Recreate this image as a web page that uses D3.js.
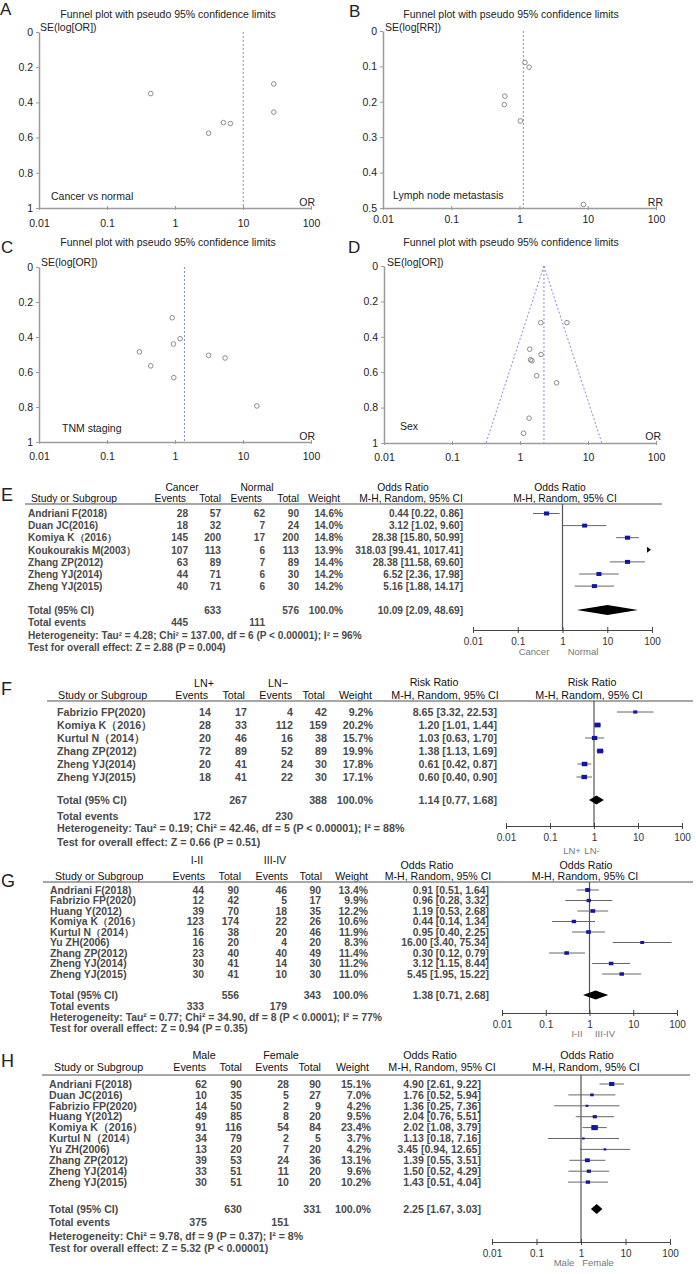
<!DOCTYPE html>
<html><head><meta charset="utf-8">
<script src="https://cdn.jsdelivr.net/npm/d3@7"></script>
<style>body{margin:0;background:#fff}svg{display:block}</style>
</head><body><svg id="c" width="696" height="1274"></svg>
<script>
// ---------------- DATA ----------------
const axisTicks = [0.01, 0.1, 1, 10, 100];
const axisTickLabels = ["0.01", "0.1", "1", "10", "100"];

// Funnel A (Cancer vs normal)
const aOR = [0.44, 3.12, 5.16, 6.52, 28.38, 28.38];
const aSE = [0.35, 0.575, 0.515, 0.52, 0.295, 0.455];
const aPooled = 10.09;
const aYTicks = [0, 0.2, 0.4, 0.6, 0.8, 1];
// Funnel B (Lymph node metastasis)
const bRR = [1.20, 1.38, 0.61, 0.60, 1.03, 8.65];
const bSE = [0.089, 0.102, 0.184, 0.208, 0.254, 0.49];
const bPooled = 1.14;
const bYTicks = [0, 0.1, 0.2, 0.3, 0.4, 0.5];
// Funnel C (TNM staging)
const cOR = [0.91, 1.19, 0.95, 0.30, 0.44, 0.96, 3.12, 5.45, 16.00];
const cSE = [0.29, 0.41, 0.44, 0.485, 0.565, 0.632, 0.505, 0.52, 0.794];
const cPooled = 1.38;
const cYTicks = [0, 0.2, 0.4, 0.6, 0.8, 1];
// Funnel D (Sex)
const dOR = [4.90, 2.02, 2.04, 1.39, 1.43, 1.50, 1.76, 3.45, 1.36, 1.13];
const dSE = [0.32, 0.32, 0.50, 0.47, 0.53, 0.535, 0.62, 0.66, 0.86, 0.945];
const dPooled = 2.25;
const dYTicks = [0, 0.2, 0.4, 0.6, 0.8, 1];

// Forest E
const eGroups = ["Cancer", "Normal"];
const eStudies = ["Andriani F(2018)", "Duan JC(2016)", "Komiya K（2016）", "Koukourakis M(2003）", "Zhang ZP(2012)", "Zheng YJ(2014)", "Zheng YJ(2015)"];
const eEv1 = [28, 18, 145, 107, 63, 44, 40];
const eTot1 = [57, 32, 200, 113, 89, 71, 71];
const eEv2 = [62, 7, 17, 6, 7, 6, 6];
const eTot2 = [90, 24, 200, 113, 89, 30, 30];
const eWeight = [14.6, 14.0, 14.8, 13.9, 14.4, 14.2, 14.2];
const eEst = [0.44, 3.12, 28.38, 318.03, 28.38, 6.52, 5.16];
const eLo = [0.22, 1.02, 15.80, 99.41, 11.58, 2.36, 1.88];
const eHi = [0.86, 9.60, 50.99, 1017.41, 69.60, 17.98, 14.17];
const eTotals = [633, 576];
const eTotalEvents = [445, 111];
const ePooled = [10.09, 2.09, 48.69];
const eHet = "Heterogeneity: Tau² = 4.28; Chi² = 137.00, df = 6 (P < 0.00001); I² = 96%";
const eTest = "Test for overall effect: Z = 2.88 (P = 0.004)";

// Forest F
const fGroups = ["LN+", "LN−"];
const fStudies = ["Fabrizio FP(2020)", "Komiya K（2016）", "Kurtul N（2014）", "Zhang ZP(2012)", "Zheng YJ(2014)", "Zheng YJ(2015)"];
const fEv1 = [14, 28, 20, 72, 20, 18];
const fTot1 = [17, 33, 46, 89, 41, 41];
const fEv2 = [4, 112, 16, 52, 24, 22];
const fTot2 = [42, 159, 38, 89, 30, 30];
const fWeight = [9.2, 20.2, 15.7, 19.9, 17.8, 17.1];
const fEst = [8.65, 1.20, 1.03, 1.38, 0.61, 0.60];
const fLo = [3.32, 1.01, 0.63, 1.13, 0.42, 0.40];
const fHi = [22.53, 1.44, 1.70, 1.69, 0.87, 0.90];
const fTotals = [267, 388];
const fTotalEvents = [172, 230];
const fPooled = [1.14, 0.77, 1.68];
const fHet = "Heterogeneity: Tau² = 0.19; Chi² = 42.46, df = 5 (P < 0.00001); I² = 88%";
const fTest = "Test for overall effect: Z = 0.66 (P = 0.51)";

// Forest G
const gGroups = ["I-II", "III-IV"];
const gStudies = ["Andriani F(2018)", "Fabrizio FP(2020)", "Huang Y(2012)", "Komiya K（2016）", "Kurtul N（2014）", "Yu ZH(2006)", "Zhang ZP(2012)", "Zheng YJ(2014)", "Zheng YJ(2015)"];
const gEv1 = [44, 12, 39, 123, 16, 16, 23, 30, 30];
const gTot1 = [90, 42, 70, 174, 38, 20, 40, 41, 41];
const gEv2 = [46, 5, 18, 22, 20, 4, 40, 14, 10];
const gTot2 = [90, 17, 35, 26, 46, 20, 49, 30, 30];
const gWeight = [13.4, 9.9, 12.2, 10.6, 11.9, 8.3, 11.4, 11.2, 11.0];
const gEst = [0.91, 0.96, 1.19, 0.44, 0.95, 16.00, 0.30, 3.12, 5.45];
const gLo = [0.51, 0.28, 0.53, 0.14, 0.40, 3.40, 0.12, 1.15, 1.95];
const gHi = [1.64, 3.32, 2.68, 1.34, 2.25, 75.34, 0.79, 8.44, 15.22];
const gTotals = [556, 343];
const gTotalEvents = [333, 179];
const gPooled = [1.38, 0.71, 2.68];
const gHet = "Heterogeneity: Tau² = 0.77; Chi² = 34.90, df = 8 (P < 0.0001); I² = 77%";
const gTest = "Test for overall effect: Z = 0.94 (P = 0.35)";

// Forest H
const hGroups = ["Male", "Female"];
const hStudies = ["Andriani F(2018)", "Duan JC(2016)", "Fabrizio FP(2020)", "Huang Y(2012)", "Komiya K（2016）", "Kurtul N（2014）", "Yu ZH(2006)", "Zhang ZP(2012)", "Zheng YJ(2014)", "Zheng YJ(2015)"];
const hEv1 = [62, 10, 14, 49, 91, 34, 13, 39, 33, 30];
const hTot1 = [90, 35, 50, 85, 116, 79, 20, 53, 51, 51];
const hEv2 = [28, 5, 2, 8, 54, 2, 7, 24, 11, 10];
const hTot2 = [90, 27, 9, 20, 84, 5, 20, 36, 20, 20];
const hWeight = [15.1, 7.0, 4.2, 9.5, 23.4, 3.7, 4.2, 13.1, 9.6, 10.2];
const hEst = [4.90, 1.76, 1.36, 2.04, 2.02, 1.13, 3.45, 1.39, 1.50, 1.43];
const hLo = [2.61, 0.52, 0.25, 0.76, 1.08, 0.18, 0.94, 0.55, 0.52, 0.51];
const hHi = [9.22, 5.94, 7.36, 5.51, 3.79, 7.16, 12.65, 3.51, 4.29, 4.04];
const hTotals = [630, 331];
const hTotalEvents = [375, 151];
const hPooled = [2.25, 1.67, 3.03];
const hHet = "Heterogeneity: Chi² = 9.78, df = 9 (P = 0.37); I² = 8%";
const hTest = "Test for overall effect: Z = 5.32 (P < 0.00001)";

// ---------------- DRAWING ----------------
const FONT = '"Liberation Sans", Arial, Helvetica, sans-serif';
const svg = d3.select("#c");
svg.append("rect").attr("width", 696).attr("height", 1274).attr("fill", "#fff");

function txt(g, x, y, s, o = {}) {
  return g.append("text").attr("x", x).attr("y", y).text(s)
    .attr("font-family", FONT)
    .attr("font-size", o.size || 10.5)
    .attr("font-weight", o.weight || "normal")
    .attr("fill", o.fill || "#111")
    .attr("text-anchor", o.anchor || "start");
}

function funnel(L, xs, ses, pooled, yTicks, yLabel, xLabel, note, cone) {
  const g = svg.append("g");
  const x = d3.scaleLog().domain([0.01, 100]).range([L.x0, L.x1]);
  const y = d3.scaleLinear().domain([0, yTicks[yTicks.length - 1]]).range([L.yTop, L.yBot]);
  const axCol = "#9b9b9b";
  const ya = g.append("g").attr("transform", `translate(${L.x0},0)`)
    .call(d3.axisLeft(y).tickValues(yTicks).tickSizeInner(3).tickSizeOuter(0).tickPadding(3).tickFormat(d => String(d)));
  ya.select(".domain").attr("stroke", axCol).attr("stroke-width", 1.5);
  ya.selectAll(".tick line").attr("stroke", axCol);
  ya.selectAll("text").attr("font-family", FONT).attr("font-size", 10.5).attr("fill", "#222");
  const xa = g.append("g").attr("transform", `translate(0,${L.yBot})`)
    .call(d3.axisBottom(x).tickValues(axisTicks).tickSizeInner(3).tickSizeOuter(0).tickPadding(L.tickPad).tickFormat((d, i) => axisTickLabels[i]));
  xa.select(".domain").attr("stroke", axCol).attr("stroke-width", 1.5);
  xa.selectAll(".tick line").attr("stroke", axCol).attr("y1", -2).attr("y2", 2);
  xa.selectAll("text").attr("font-family", FONT).attr("font-size", 10.5).attr("fill", "#222");
  g.append("line").attr("x1", x(pooled)).attr("x2", x(pooled)).attr("y1", y(0)).attr("y2", L.yBot)
    .attr("stroke", "#8a8ae0").attr("stroke-width", 1).attr("stroke-dasharray", "2,2");
  if (cone) {
    const ymax = yTicks[yTicks.length - 1];
    [-1, 1].forEach(s => {
      g.append("line").attr("x1", x(pooled)).attr("y1", y(0))
        .attr("x2", x(pooled * Math.exp(s * 1.96 * ymax))).attr("y2", y(ymax))
        .attr("stroke", "#8a8ae0").attr("stroke-width", 1).attr("stroke-dasharray", "2,2");
    });
  }
  g.selectAll("circle.pt").data(xs).enter().append("circle")
    .attr("cx", d => x(d)).attr("cy", (d, i) => y(ses[i])).attr("r", 2.3)
    .attr("fill", "none").attr("stroke", "#8c8c8c").attr("stroke-width", 1);
  txt(g, L.letterX, L.letterY, L.letter, {size: 17, fill: "#222"});
  txt(g, L.titleX, L.titleY, "Funnel plot with pseudo 95% confidence limits", {anchor: "middle", fill: "#222"});
  txt(g, L.seX, L.seY, yLabel, {fill: "#222"});
  txt(g, L.noteX, L.noteY, note, {fill: "#222"});
  txt(g, L.xlabX, L.xlabY, xLabel, {anchor: "end", fill: "#222"});
}

funnel({x0: 39, x1: 311, yTop: 32, yBot: 208, tickPad: 9, letter: "A", letterX: 0, letterY: 15,
  titleX: 168, titleY: 18, seX: 40, seY: 31, noteX: 51, noteY: 200, xlabX: 315, xlabY: 206},
  aOR, aSE, aPooled, aYTicks, "SE(log[OR])", "OR", "Cancer vs normal", false);
funnel({x0: 383, x1: 656, yTop: 31, yBot: 208, tickPad: 5, letter: "B", letterX: 349, letterY: 17,
  titleX: 511, titleY: 18, seX: 385, seY: 31, noteX: 393, noteY: 199, xlabX: 663, xlabY: 206},
  bRR, bSE, bPooled, bYTicks, "SE(log[RR])", "RR", "Lymph node metastasis", false);
funnel({x0: 39, x1: 311, yTop: 267, yBot: 442, tickPad: 8, letter: "C", letterX: 1, letterY: 253,
  titleX: 168, titleY: 246, seX: 41, seY: 266, noteX: 62, noteY: 432, xlabX: 315, xlabY: 440},
  cOR, cSE, cPooled, cYTicks, "SE(log[OR])", "OR", "TNM staging", false);
funnel({x0: 384, x1: 656, yTop: 266, yBot: 443, tickPad: 8, letter: "D", letterX: 348, letterY: 253,
  titleX: 511, titleY: 246, seX: 387, seY: 266, noteX: 400, noteY: 430, xlabX: 661, xlabY: 440},
  dOR, dSE, dPooled, dYTicks, "SE(log[OR])", "OR", "Sex", true);

function fmtCI(e, l, h) { return `${e.toFixed(2)} [${l.toFixed(2)}, ${h.toFixed(2)}]`; }

function forest(L, D) {
  const g = svg.append("g");
  const x = d3.scaleLog().domain([0.01, 100]).range([L.ax0, L.ax1]);
  const yc = i => L.row0 + i * L.dy;
  const B = 3.7;
  const rs = {size: L.fs, weight: "bold", fill: "#4a4a4a"};
  const hs = {size: L.hfs, fill: "#111"};
  txt(g, L.letterX, L.letterY, L.letter, {size: 18, fill: "#222"});
  txt(g, L.grpC[0], L.grpY, D.groups[0], {...hs, anchor: "middle"});
  txt(g, L.grpC[1], L.grpY, D.groups[1], {...hs, anchor: "middle"});
  txt(g, L.studyHdrX, L.hdr2Y, "Study or Subgroup", hs);
  ["Events", "Total", "Events", "Total", "Weight"].forEach((h, i) =>
    txt(g, L.hcols[i], L.hdr2Y, h, {...hs, anchor: "end"}));
  txt(g, L.estHdr[0], L.hdr1Y, D.measure, {...hs, anchor: "middle"});
  txt(g, L.estHdr[1], L.hdr2Y, "M-H, Random, 95% CI", {...hs, anchor: "middle"});
  txt(g, L.plotHdr[0], L.hdr1Y, D.measure, {...hs, anchor: "middle"});
  txt(g, L.plotHdr[1], L.hdr2Y, "M-H, Random, 95% CI", {...hs, anchor: "middle"});
  g.append("line").attr("x1", L.ruleX[0]).attr("x2", L.ruleX[1]).attr("y1", L.ruleY).attr("y2", L.ruleY)
    .attr("stroke", "#8a8a8a").attr("stroke-width", 1.4);
  D.studies.forEach((s, i) => {
    const yy = yc(i) + B;
    txt(g, L.nameX, yy, s, rs);
    txt(g, L.cols[0], yy, D.ev1[i], {...rs, anchor: "end"});
    txt(g, L.cols[1], yy, D.tot1[i], {...rs, anchor: "end"});
    txt(g, L.cols[2], yy, D.ev2[i], {...rs, anchor: "end"});
    txt(g, L.cols[3], yy, D.tot2[i], {...rs, anchor: "end"});
    txt(g, L.cols[4], yy, D.weight[i].toFixed(1) + "%", {...rs, anchor: "end"});
    txt(g, L.estR, yy, fmtCI(D.est[i], D.lo[i], D.hi[i]), {...rs, anchor: "end"});
  });
  txt(g, L.nameX, L.totY + B, "Total (95% CI)", rs);
  txt(g, L.cols[1], L.totY + B, D.totals[0], {...rs, anchor: "end"});
  txt(g, L.cols[3], L.totY + B, D.totals[1], {...rs, anchor: "end"});
  txt(g, L.cols[4], L.totY + B, "100.0%", {...rs, anchor: "end"});
  txt(g, L.estR, L.totY + B, fmtCI(D.pooled[0], D.pooled[1], D.pooled[2]), {...rs, anchor: "end"});
  txt(g, L.nameX, L.evY + B, "Total events", rs);
  txt(g, L.cols[0], L.evY + B, D.totalEvents[0], {...rs, anchor: "end"});
  txt(g, L.cols[2], L.evY + B, D.totalEvents[1], {...rs, anchor: "end"});
  txt(g, L.nameX, L.hetY + B, D.het, rs);
  txt(g, L.nameX, L.testY + B, D.test, rs);
  g.append("line").attr("x1", x(1)).attr("x2", x(1)).attr("y1", L.ruleY).attr("y2", L.axisY)
    .attr("stroke", "#555").attr("stroke-width", 1.2);
  D.studies.forEach((s, i) => {
    const cy = yc(i);
    const lo = Math.max(D.lo[i], 0.01), hi = Math.min(D.hi[i], 100);
    if (lo < hi) {
      g.append("line").attr("x1", x(lo)).attr("x2", x(hi)).attr("y1", cy).attr("y2", cy)
        .attr("stroke", "#666").attr("stroke-width", 1);
    }
    if (D.hi[i] > 100) {
      const ax = x(100) - 2;
      g.append("path").attr("d", `M${ax - 3},${cy - 3}L${ax + 1},${cy}L${ax - 3},${cy + 3}Z`).attr("fill", "#111");
    }
    if (D.est[i] >= 0.01 && D.est[i] <= 100) {
      const w = 1.35 * Math.sqrt(D.weight[i]), h = 1.05 * Math.sqrt(D.weight[i]);
      g.append("rect").attr("x", x(D.est[i]) - w / 2).attr("y", cy - h / 2).attr("width", w).attr("height", h)
        .attr("fill", "#1414a6");
    }
  });
  const dy = L.totY, dh = L.dh;
  g.append("path").attr("d",
    `M${x(D.pooled[1])},${dy}L${x(D.pooled[0])},${dy - dh}L${x(D.pooled[2])},${dy}L${x(D.pooled[0])},${dy + dh}Z`)
    .attr("fill", "#000");
  const xa = g.append("g").attr("transform", `translate(0,${L.axisY})`)
    .call(d3.axisBottom(x).tickValues(axisTicks).tickSizeInner(3).tickSizeOuter(0).tickPadding(L.tickPad).tickFormat((d, i) => axisTickLabels[i]));
  xa.select(".domain").attr("stroke", "#444").attr("stroke-width", 1.2);
  xa.selectAll(".tick line").attr("stroke", "#444").attr("y1", -3).attr("y2", 3);
  xa.selectAll("text").attr("font-family", FONT).attr("font-size", 10).attr("fill", "#333");
  txt(g, L.favC[0], L.favY, D.groupsFav[0], {size: 9.5, fill: "#777", anchor: "middle"});
  txt(g, L.favC[1], L.favY, D.groupsFav[1], {size: 9.5, fill: "#777", anchor: "middle"});
}

forest({letter: "E", letterX: 1, letterY: 501, fs: 10.1, hfs: 10.3,
  grpC: [182, 257], grpY: 491, hdr1Y: 491, hdr2Y: 502, studyHdrX: 31,
  hcols: [186, 221, 262, 299, 340], estHdr: [403, 411], plotHdr: [560, 565],
  ruleX: [25, 662], ruleY: 504, nameX: 28, cols: [188, 221, 265, 299, 343], estR: 463,
  row0: 513.5, dy: 12.1, totY: 610, evY: 622, hetY: 635, testY: 647,
  ax0: 473, ax1: 652, axisY: 630, tickPad: 5, favC: [534, 583], favY: 655, dh: 5},
  {groups: eGroups, groupsFav: ["Cancer", "Normal"], measure: "Odds Ratio", studies: eStudies, ev1: eEv1, tot1: eTot1, ev2: eEv2, tot2: eTot2,
   weight: eWeight, est: eEst, lo: eLo, hi: eHi, totals: eTotals, totalEvents: eTotalEvents, pooled: ePooled, het: eHet, test: eTest});

forest({letter: "F", letterX: 1, letterY: 695, fs: 10.7, hfs: 10.7,
  grpC: [204, 278], grpY: 687, hdr1Y: 686, hdr2Y: 699, studyHdrX: 58,
  hcols: [208, 245, 292, 325, 372], estHdr: [434, 445], plotHdr: [592, 589],
  ruleX: [47, 693], ruleY: 701, nameX: 57, cols: [211, 247, 293, 327, 373], estR: 497,
  row0: 712, dy: 13, totY: 800, evY: 816, hetY: 828.5, testY: 842.5,
  ax0: 506, ax1: 682, axisY: 826, tickPad: 5, favC: [572, 592], favY: 854, dh: 4.5},
  {groups: fGroups, groupsFav: ["LN+", "LN-"], measure: "Risk Ratio", studies: fStudies, ev1: fEv1, tot1: fTot1, ev2: fEv2, tot2: fTot2,
   weight: fWeight, est: fEst, lo: fLo, hi: fHi, totals: fTotals, totalEvents: fTotalEvents, pooled: fPooled, het: fHet, test: fTest});

forest({letter: "G", letterX: 1, letterY: 887, fs: 10.4, hfs: 10.6,
  grpC: [197, 275], grpY: 864, hdr1Y: 869, hdr2Y: 880, studyHdrX: 55,
  hcols: [205, 241, 288, 322, 368], estHdr: [427, 438], plotHdr: [586, 585],
  ruleX: [43, 693], ruleY: 882, nameX: 50, cols: [204, 239, 287, 321, 368], estR: 489,
  row0: 890, dy: 10.5, totY: 995, evY: 1006, hetY: 1017, testY: 1028,
  ax0: 502, ax1: 677, axisY: 1013, tickPad: 5, favC: [577, 605], favY: 1037, dh: 4.5},
  {groups: gGroups, groupsFav: ["I-II", "III-IV"], measure: "Odds Ratio", studies: gStudies, ev1: gEv1, tot1: gTot1, ev2: gEv2, tot2: gTot2,
   weight: gWeight, est: gEst, lo: gLo, hi: gHi, totals: gTotals, totalEvents: gTotalEvents, pooled: gPooled, het: gHet, test: gTest});

forest({letter: "H", letterX: 1, letterY: 1067, fs: 10.6, hfs: 10.7,
  grpC: [204, 281], grpY: 1059, hdr1Y: 1059, hdr2Y: 1071, studyHdrX: 54,
  hcols: [206, 242, 288, 321, 369], estHdr: [430, 442], plotHdr: [587, 586],
  ruleX: [42, 690], ruleY: 1075, nameX: 49, cols: [207, 242, 289, 321, 371], estR: 481,
  row0: 1084, dy: 10.9, totY: 1209, evY: 1222, hetY: 1236, testY: 1248,
  ax0: 492, ax1: 670, axisY: 1242, tickPad: 5, favC: [564, 598], favY: 1266, dh: 5},
  {groups: hGroups, groupsFav: ["Male", "Female"], measure: "Odds Ratio", studies: hStudies, ev1: hEv1, tot1: hTot1, ev2: hEv2, tot2: hTot2,
   weight: hWeight, est: hEst, lo: hLo, hi: hHi, totals: hTotals, totalEvents: hTotalEvents, pooled: hPooled, het: hHet, test: hTest});
</script></body></html>
